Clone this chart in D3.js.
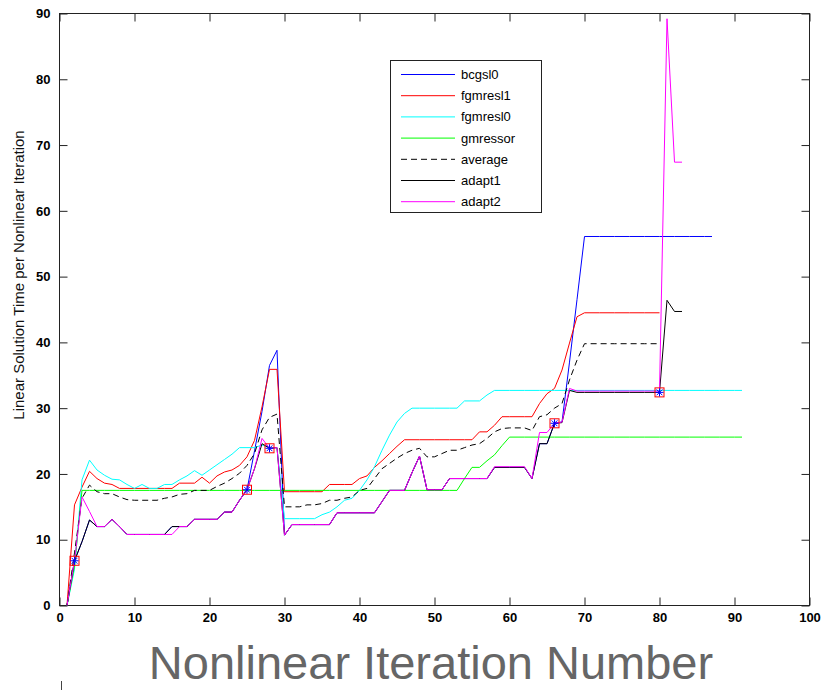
<!DOCTYPE html>
<html>
<head>
<meta charset="utf-8">
<script src="https://cdn.jsdelivr.net/npm/d3@7"></script>
<style>
  body { margin: 0; background: #fff; }
  svg { display: block; }
</style>
</head>
<body>
<script>
// Linear solution time per nonlinear iteration, one value per iteration (iteration numbers start at 1)
const bcgsl0 = [
  0, 6.8, 9.7, 13.0, 12.0, 12.0, 13.1, 12.0, 10.8, 10.8,
  10.8, 10.8, 10.8, 10.8, 12.0, 12.0, 12.0, 13.1, 13.1, 13.1,
  13.1, 14.2, 14.2, 16.0, 17.6, 23.5, 29.5, 36.5, 38.8, 10.7,
  12.3, 12.3, 12.3, 12.3, 12.3, 12.3, 14.1, 14.1, 14.1, 14.1,
  14.1, 14.1, 15.8, 17.5, 17.5, 17.5, 20.2, 22.7, 17.6, 17.6,
  17.6, 19.3, 19.3, 19.3, 19.3, 19.3, 19.3, 21.0, 21.0, 21.0,
  21.0, 21.0, 19.3, 24.6, 24.6, 27.7, 27.9, 37.0, 46.5, 56.1,
  56.1, 56.1, 56.1, 56.1, 56.1, 56.1, 56.1, 56.1, 56.1, 56.1,
  56.1, 56.1, 56.1, 56.1, 56.1, 56.1, 56.1
];
const fgmresl1 = [
  0, 15.3, 18.0, 20.4, 19.3, 18.6, 18.4, 17.8, 17.8, 17.8,
  17.8, 17.8, 17.8, 17.8, 17.8, 18.6, 18.6, 18.6, 19.5, 18.6,
  19.7, 20.3, 20.6, 21.3, 22.6, 25.1, 30.2, 35.9, 35.9, 17.3,
  17.3, 17.3, 17.3, 17.3, 17.3, 18.4, 18.4, 18.4, 18.4, 19.3,
  19.7, 21.0, 22.0, 23.1, 24.2, 25.2, 25.2, 25.2, 25.2, 25.2,
  25.2, 25.2, 25.2, 25.2, 25.2, 26.4, 26.4, 27.4, 28.7, 28.7,
  28.7, 28.7, 28.7, 30.7, 32.2, 33.0, 35.8, 39.9, 43.9, 44.5,
  44.5, 44.5, 44.5, 44.5, 44.5, 44.5, 44.5, 44.5, 44.5, 44.5
];
const fgmresl0 = [
  0, 5.5, 19.1, 22.1, 20.6, 19.8, 19.2, 19.1, 18.4, 17.8,
  18.4, 17.8, 17.8, 18.4, 18.4, 19.1, 19.7, 20.5, 19.8, 20.6,
  21.4, 22.2, 23.0, 24.0, 24.0, 24.0, 24.4, 24.0, 24.0, 13.2,
  13.2, 13.2, 13.2, 13.2, 13.8, 14.2, 15.0, 16.0, 16.3, 17.5,
  19.1, 21.1, 23.6, 25.9, 27.9, 29.2, 30.0, 30.0, 30.0, 30.0,
  30.0, 30.0, 30.0, 31.1, 31.1, 31.1, 32.0, 32.7, 32.7, 32.7,
  32.7, 32.7, 32.7, 32.7, 32.7, 32.7, 32.7, 32.7, 32.7, 32.7,
  32.7, 32.7, 32.7, 32.7, 32.7, 32.7, 32.7, 32.7, 32.7, 32.7,
  32.7, 32.7, 32.7, 32.7, 32.7, 32.7, 32.7, 32.7, 32.7, 32.7,
  32.7
];
const gmressor = [
  0, 6.0, 17.5, 17.5, 17.5, 17.5, 17.5, 17.5, 17.5, 17.5,
  17.5, 17.5, 17.5, 17.5, 17.5, 17.5, 17.5, 17.5, 17.5, 17.5,
  17.5, 17.5, 17.5, 17.5, 17.5, 17.5, 17.5, 17.5, 17.5, 17.5,
  17.5, 17.5, 17.5, 17.5, 17.5, 17.5, 17.5, 17.5, 17.5, 17.5,
  17.5, 17.5, 17.5, 17.5, 17.5, 17.5, 17.5, 17.5, 17.5, 17.5,
  17.5, 17.5, 17.5, 19.3, 21.0, 21.0, 22.0, 22.9, 24.3, 25.6,
  25.6, 25.6, 25.6, 25.6, 25.6, 25.6, 25.6, 25.6, 25.6, 25.6,
  25.6, 25.6, 25.6, 25.6, 25.6, 25.6, 25.6, 25.6, 25.6, 25.6,
  25.6, 25.6, 25.6, 25.6, 25.6, 25.6, 25.6, 25.6, 25.6, 25.6,
  25.6
];
const average = [
  0, 8.0, 16.3, 18.3, 17.3, 17.0, 17.0, 16.5, 16.1, 16.0,
  16.0, 16.0, 16.0, 16.3, 16.5, 16.9, 17.0, 17.5, 17.5, 17.5,
  18.1, 18.6, 19.3, 20.1, 21.3, 23.1, 26.7, 28.6, 29.1, 15.0,
  15.0, 15.0, 15.3, 15.3, 15.5, 16.0, 16.0, 16.3, 16.5, 17.5,
  17.8, 19.3, 20.8, 21.6, 22.4, 23.1, 23.6, 23.9, 22.6, 22.6,
  23.1, 23.6, 23.6, 24.0, 24.4, 24.6, 25.4, 26.4, 26.9, 27.0,
  27.0, 27.0, 26.6, 28.7, 29.0, 30.0, 30.7, 34.3, 37.3, 39.8,
  39.8, 39.8, 39.8, 39.8, 39.8, 39.8, 39.8, 39.8, 39.8, 39.8
];
const adapt1 = [
  0, 6.8, 9.7, 13.0, 12.0, 12.0, 13.1, 12.0, 10.8, 10.8,
  10.8, 10.8, 10.8, 10.8, 12.0, 12.0, 12.0, 13.1, 13.1, 13.1,
  13.1, 14.2, 14.2, 16.0, 17.6, 20.8, 24.6, 23.9, 24.0, 10.7,
  12.3, 12.3, 12.3, 12.3, 12.3, 12.3, 14.1, 14.1, 14.1, 14.1,
  14.1, 14.1, 15.8, 17.5, 17.5, 17.5, 20.2, 22.7, 17.6, 17.6,
  17.6, 19.3, 19.3, 19.3, 19.3, 19.3, 19.3, 21.0, 21.0, 21.0,
  21.0, 21.0, 19.3, 24.6, 24.6, 27.7, 27.8, 32.7, 32.4, 32.4,
  32.4, 32.4, 32.4, 32.4, 32.4, 32.4, 32.4, 32.4, 32.4, 32.4,
  46.4, 44.7, 44.7
];
const adapt2 = [
  0, 6.8, 16.5, 14.3, 12.0, 12.0, 13.1, 12.0, 10.8, 10.8,
  10.8, 10.8, 10.8, 10.8, 10.8, 12.0, 12.0, 13.1, 13.1, 13.1,
  13.1, 14.2, 14.2, 16.0, 17.6, 20.8, 25.4, 23.9, 24.0, 10.7,
  12.3, 12.3, 12.3, 12.3, 12.3, 12.3, 14.1, 14.1, 14.1, 14.1,
  14.1, 14.1, 15.8, 17.5, 17.5, 17.5, 20.2, 22.7, 17.6, 17.6,
  17.6, 19.3, 19.3, 19.3, 19.3, 19.3, 19.3, 21.1, 21.1, 21.1,
  21.1, 21.1, 19.3, 26.3, 26.3, 27.7, 27.9, 33.0, 32.6, 32.6,
  32.6, 32.6, 32.6, 32.6, 32.6, 32.6, 32.6, 32.6, 32.6, 32.6,
  89.2, 67.4, 67.4
];
// Iterations where the adaptive solver switched methods
const switchIterations = [2, 25, 28, 66, 80];

const seriesNames = ["bcgsl0", "fgmresl1", "fgmresl0", "gmressor", "average", "adapt1", "adapt2"];
const seriesValues = [bcgsl0, fgmresl1, fgmresl0, gmressor, average, adapt1, adapt2];
const seriesColors = ["#0000ff", "#ff0000", "#00ffff", "#00ff00", "#000000", "#000000", "#ff00ff"];
const seriesDash = [null, null, null, null, "6,4", null, null];

const xTicks = [0, 10, 20, 30, 40, 50, 60, 70, 80, 90, 100];
const yTicks = [0, 10, 20, 30, 40, 50, 60, 70, 80, 90];
const xTitle = "Nonlinear Iteration Number";
const yTitle = "Linear Solution Time per Nonlinear Iteration";

const W = 823, H = 690;
const svg = d3.select("body").append("svg").attr("width", W).attr("height", H);

const x = d3.scaleLinear().domain([0, 100]).range([59.5, 809.5]);
const y = d3.scaleLinear().domain([0, 90]).range([605.5, 13.5]);

const tickFont = "'Liberation Sans Narrow', 'Liberation Sans', Arial, sans-serif";

// Axes with inward ticks on all four sides
const axB = svg.append("g").attr("transform", `translate(0,${y(0)})`)
  .call(d3.axisBottom(x).tickValues(xTicks).tickSizeInner(-8).tickSizeOuter(0).tickPadding(7));
const axL = svg.append("g").attr("transform", `translate(${x(0)},0)`)
  .call(d3.axisLeft(y).tickValues(yTicks).tickSizeInner(-8).tickSizeOuter(0).tickPadding(9));
const axT = svg.append("g").attr("transform", `translate(0,${y(90)})`)
  .call(d3.axisTop(x).tickValues(xTicks).tickSizeInner(-8).tickSizeOuter(0).tickFormat(""));
const axR = svg.append("g").attr("transform", `translate(${x(100)},0)`)
  .call(d3.axisRight(y).tickValues(yTicks).tickSizeInner(-8).tickSizeOuter(0).tickFormat(""));

[axB, axL, axT, axR].forEach(g => {
  g.select(".domain").remove();
  g.selectAll(".tick line").attr("stroke", "#222");
  g.selectAll(".tick text").attr("fill", "#000")
    .style("font-family", tickFont).style("font-size", "13px").style("font-weight", "bold");
});

// Plot frame
svg.append("rect")
  .attr("x", x(0)).attr("y", y(90))
  .attr("width", x(100) - x(0)).attr("height", y(0) - y(90))
  .attr("fill", "none").attr("stroke", "#222").attr("stroke-width", 1);

// Series lines
const line = d3.line().x((d, i) => x(i + 1)).y(d => y(d));
const linesG = svg.append("g");
seriesValues.forEach((vals, k) => {
  linesG.append("path")
    .datum(vals)
    .attr("d", line)
    .attr("fill", "none")
    .attr("stroke", seriesColors[k])
    .attr("stroke-width", 1)
    .attr("stroke-dasharray", seriesDash[k]);
});

// Switch markers: red square with a blue asterisk
const mk = svg.append("g");
switchIterations.forEach(it => {
  const cx = x(it), cy = y(adapt1[it - 1]);
  mk.append("rect").attr("x", cx - 4.5).attr("y", cy - 4.5).attr("width", 9).attr("height", 9)
    .attr("fill", "none").attr("stroke", "#ff0000").attr("stroke-width", 1);
  const r = 4, d = 2.9;
  const segs = [[-r, 0, r, 0], [0, -r, 0, r], [-d, -d, d, d], [-d, d, d, -d]];
  segs.forEach(s => mk.append("line")
    .attr("x1", cx + s[0]).attr("y1", cy + s[1]).attr("x2", cx + s[2]).attr("y2", cy + s[3])
    .attr("stroke", "#0000ff").attr("stroke-width", 1));
});

// Legend
const lg = svg.append("g");
lg.append("rect").attr("x", 390.5).attr("y", 60.5).attr("width", 151).attr("height", 152)
  .attr("fill", "#fff").attr("stroke", "#222").attr("stroke-width", 1);
seriesNames.forEach((name, k) => {
  const ly = 74.5 + k * 21.2;
  lg.append("line").attr("x1", 401).attr("x2", 455).attr("y1", ly).attr("y2", ly)
    .attr("stroke", seriesColors[k]).attr("stroke-width", 1)
    .attr("stroke-dasharray", seriesDash[k]);
  lg.append("text").attr("x", 461).attr("y", ly).attr("dy", "0.35em")
    .style("font-family", "'Liberation Sans', Arial, sans-serif").style("font-size", "13px")
    .attr("fill", "#000").text(name);
});

// Axis titles
svg.append("text")
  .attr("transform", `translate(24,${(95 + 455) / 2}) rotate(-90)`)
  .attr("text-anchor", "middle")
  .style("font-family", "'Liberation Sans', Arial, sans-serif").style("font-size", "15px")
  .attr("fill", "#111").text(yTitle);

svg.append("text")
  .attr("x", 431).attr("y", 679)
  .attr("text-anchor", "middle")
  .style("font-family", "'Liberation Sans', Arial, sans-serif").style("font-size", "47px")
  .attr("fill", "#666").text(xTitle);

// small stray mark below the axis origin
svg.append("line").attr("x1", 61.5).attr("x2", 61.5).attr("y1", 681).attr("y2", 690)
  .attr("stroke", "#444").attr("stroke-width", 1);
</script>
</body>
</html>
